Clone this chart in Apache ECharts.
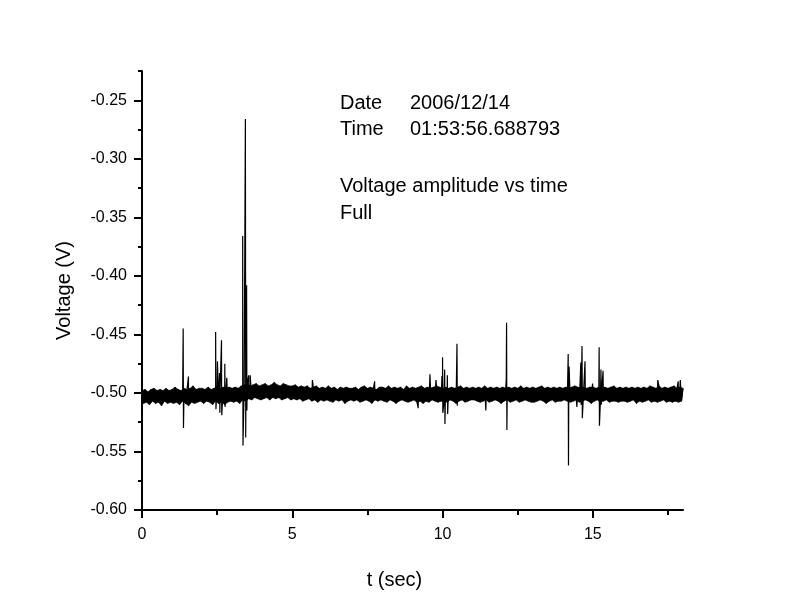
<!DOCTYPE html>
<html>
<head>
<meta charset="utf-8">
<script src="https://cdn.jsdelivr.net/npm/echarts@6/dist/echarts.min.js"></script>
<style>
html,body{margin:0;padding:0;background:#fff;}
#chart{width:792px;height:612px;}
</style>
</head>
<body>
<div id="chart"></div>
<script>
// ---- data ----
const noiseStart = 0;      // sec
const noiseStep = 0.05;    // sec between baseline samples
const noiseValues = [
-0.498,-0.509,-0.497,-0.508,-0.499,-0.510,-0.497,-0.507,-0.496,-0.509,-0.498,-0.508,-0.497,-0.511,-0.498,-0.507,-0.496,-0.509,-0.498,-0.508,
-0.497,-0.509,-0.495,-0.508,-0.497,-0.510,-0.498,-0.507,-0.496,-0.509,-0.497,-0.511,-0.496,-0.508,-0.494,-0.509,-0.497,-0.508,-0.496,-0.507,
-0.496,-0.509,-0.497,-0.507,-0.495,-0.508,-0.497,-0.510,-0.496,-0.507,-0.494,-0.509,-0.496,-0.508,-0.495,-0.510,-0.496,-0.508,-0.495,-0.507,
-0.496,-0.508,-0.495,-0.507,-0.496,-0.509,-0.494,-0.506,-0.493,-0.507,-0.492,-0.505,-0.494,-0.506,-0.493,-0.504,-0.492,-0.505,-0.494,-0.506,
-0.493,-0.505,-0.492,-0.504,-0.494,-0.506,-0.493,-0.504,-0.491,-0.505,-0.493,-0.504,-0.494,-0.506,-0.492,-0.505,-0.493,-0.504,-0.494,-0.506,
-0.494,-0.505,-0.493,-0.506,-0.495,-0.505,-0.494,-0.507,-0.495,-0.506,-0.494,-0.505,-0.496,-0.507,-0.495,-0.506,-0.494,-0.508,-0.496,-0.506,
-0.495,-0.507,-0.496,-0.506,-0.494,-0.507,-0.496,-0.508,-0.495,-0.506,-0.497,-0.507,-0.495,-0.506,-0.496,-0.509,-0.495,-0.507,-0.496,-0.506,
-0.496,-0.507,-0.495,-0.506,-0.497,-0.508,-0.495,-0.507,-0.494,-0.506,-0.496,-0.507,-0.495,-0.509,-0.496,-0.506,-0.497,-0.507,-0.495,-0.506,
-0.495,-0.507,-0.496,-0.508,-0.494,-0.506,-0.496,-0.507,-0.495,-0.509,-0.496,-0.507,-0.495,-0.506,-0.497,-0.507,-0.494,-0.508,-0.496,-0.507,
-0.495,-0.506,-0.496,-0.508,-0.495,-0.507,-0.494,-0.509,-0.496,-0.507,-0.495,-0.508,-0.496,-0.506,-0.495,-0.507,-0.494,-0.508,-0.495,-0.507,
-0.496,-0.507,-0.495,-0.508,-0.496,-0.506,-0.495,-0.507,-0.496,-0.509,-0.495,-0.507,-0.494,-0.506,-0.496,-0.508,-0.495,-0.507,-0.496,-0.506,
-0.495,-0.506,-0.496,-0.507,-0.495,-0.508,-0.496,-0.507,-0.494,-0.506,-0.496,-0.508,-0.495,-0.507,-0.496,-0.506,-0.495,-0.507,-0.496,-0.509,
-0.495,-0.507,-0.496,-0.506,-0.495,-0.508,-0.496,-0.507,-0.495,-0.506,-0.496,-0.508,-0.494,-0.507,-0.496,-0.506,-0.495,-0.507,-0.496,-0.508,
-0.495,-0.508,-0.496,-0.507,-0.495,-0.506,-0.494,-0.507,-0.496,-0.509,-0.495,-0.507,-0.496,-0.506,-0.495,-0.508,-0.496,-0.507,-0.495,-0.507,
-0.496,-0.506,-0.495,-0.507,-0.496,-0.508,-0.495,-0.507,-0.494,-0.506,-0.495,-0.508,-0.496,-0.507,-0.495,-0.506,-0.496,-0.507,-0.495,-0.509,
-0.495,-0.507,-0.496,-0.506,-0.495,-0.508,-0.496,-0.507,-0.495,-0.506,-0.496,-0.508,-0.495,-0.507,-0.494,-0.507,-0.496,-0.508,-0.495,-0.507,
-0.496,-0.507,-0.495,-0.508,-0.496,-0.507,-0.495,-0.506,-0.496,-0.509,-0.495,-0.507,-0.496,-0.508,-0.495,-0.507,-0.496,-0.506,-0.494,-0.508,
-0.495,-0.507,-0.496,-0.508,-0.494,-0.507,-0.496,-0.506,-0.495,-0.508,-0.496,-0.507,-0.495,-0.508,-0.494,-0.507,-0.496,-0.508,-0.495,-0.507,
-0.496
];
// transient spikes: [time (sec), voltage (V)]
const spikeTimes = [
1.37,1.38,1.545,2.45,2.46,2.51,2.58,2.59,2.645,2.655,2.755,2.765,2.82,
3.35,3.36,3.44,3.45,3.48,3.49,3.55,3.60,5.67,7.74,8.62,9.19,9.22,9.58,9.78,9.98,
10.00,10.01,10.07,10.08,10.16,10.17,10.48,10.49,11.44,12.12,12.13,12.14,
14.18,14.19,14.21,14.47,14.60,14.61,14.64,14.65,14.74,14.99,15.21,15.22,15.27,15.28,15.34,
17.16,17.84,17.91
];
const spikeValues = [
-0.445,-0.530,-0.486,-0.448,-0.514,-0.473,-0.483,-0.517,-0.455,-0.519,-0.475,-0.512,-0.487,
-0.366,-0.545,-0.266,-0.538,-0.408,-0.515,-0.485,-0.485,-0.489,-0.490,-0.494,-0.513,-0.495,-0.484,-0.489,-0.4855,
-0.4695,-0.517,-0.480,-0.5265,-0.485,-0.518,-0.458,-0.511,-0.515,-0.489,-0.440,-0.5316,
-0.4667,-0.562,-0.4775,-0.512,-0.474,-0.510,-0.460,-0.5216,-0.473,-0.492,-0.461,-0.528,-0.480,-0.510,-0.481,
-0.489,-0.490,-0.489
];
const xMajorTicks = [0, 5, 10, 15];
const xMinorTicks = [2.5, 7.5, 12.5, 17.5];
const yMajorTicks = [-0.60, -0.55, -0.50, -0.45, -0.40, -0.35, -0.30, -0.25];
const yMinorTicks = [-0.575, -0.525, -0.475, -0.425, -0.375, -0.325, -0.275, -0.225];
const infoLabels = ['Date', 'Time'];
const infoValues = ['2006/12/14', '01:53:56.688793'];
const captionLines = ['Voltage amplitude vs time', 'Full'];

// ---- build series ----
const noisePoints = noiseValues.map((v, i) => [noiseStart + i * noiseStep, v]);
const seriesData = noisePoints.slice();
spikeTimes.forEach((t, i) => seriesData.push([t, spikeValues[i]]));
seriesData.sort((a, b) => a[0] - b[0]);
// envelope of the dense baseline noise: upper samples (even) and lower samples (odd)
const upperEnv = noisePoints.filter((p, i) => i % 2 === 0);
const lowerEnv = noisePoints.filter((p, i) => i % 2 === 1);

const FONT = 'Arial, "Liberation Sans", sans-serif';
const chart = echarts.init(document.getElementById('chart'), null, {renderer: 'canvas'});

const graphics = [];
const infoY = [104, 130.5];
infoLabels.forEach((s, i) => {
  graphics.push({type: 'text', left: 340, top: infoY[i] - 11, style: {text: s, fill: '#000', font: '20px ' + FONT}});
  graphics.push({type: 'text', left: 410, top: infoY[i] - 11, style: {text: infoValues[i], fill: '#000', font: '20px ' + FONT}});
});
const capY = [187.5, 214];
captionLines.forEach((s, i) => {
  graphics.push({type: 'text', left: 340, top: capY[i] - 11, style: {text: s, fill: '#000', font: '20px ' + FONT}});
});

const axisLineStyle = {color: '#000', width: 2};
chart.setOption({
  animation: false,
  backgroundColor: '#fff',
  grid: {left: 142, right: 109, top: 71, bottom: 102, containLabel: false},
  xAxis: [{
    type: 'value', min: 0, max: 18, interval: 5, position: 'bottom',
    axisLine: {show: true, onZero: false, lineStyle: axisLineStyle},
    axisTick: {show: true, inside: false, length: 8, lineStyle: {color: '#000', width: 2}, customValues: xMajorTicks},
    axisLabel: {show: true, customValues: xMajorTicks, color: '#000', fontSize: 16, fontFamily: FONT, margin: 17,
      formatter: v => String(v)},
    splitLine: {show: false},
    name: 't (sec)', nameLocation: 'middle', nameGap: 60,
    nameTextStyle: {color: '#000', fontSize: 20, fontFamily: FONT, padding: [0, 36, 0, 0]}
  }, {
    type: 'value', min: 0, max: 18, position: 'bottom',
    axisLine: {show: false},
    axisTick: {show: true, inside: false, length: 5, lineStyle: {color: '#000', width: 2}, customValues: xMinorTicks},
    axisLabel: {show: false},
    splitLine: {show: false}
  }],
  yAxis: [{
    type: 'value', min: -0.60, max: -0.225, interval: 0.05, position: 'left',
    axisLine: {show: true, onZero: false, lineStyle: axisLineStyle},
    axisTick: {show: true, inside: false, length: 8, lineStyle: {color: '#000', width: 2}, customValues: yMajorTicks},
    axisLabel: {show: true, customValues: yMajorTicks, color: '#000', fontSize: 16, fontFamily: FONT, margin: 15,
      formatter: v => v.toFixed(2)},
    splitLine: {show: false},
    name: 'Voltage (V)', nameLocation: 'middle', nameGap: 68, nameRotate: 90,
    nameTextStyle: {color: '#000', fontSize: 20, fontFamily: FONT}
  }, {
    type: 'value', min: -0.60, max: -0.225, position: 'left',
    axisLine: {show: false},
    axisTick: {show: true, inside: false, length: 4, lineStyle: {color: '#000', width: 2}, customValues: yMinorTicks},
    axisLabel: {show: false},
    splitLine: {show: false}
  }],
  series: [{
    type: 'custom',
    xAxisIndex: 0, yAxisIndex: 0,
    data: [upperEnv[0]],
    silent: true,
    z: 1,
    renderItem: function (params, api) {
      const pts = [];
      upperEnv.forEach(p => pts.push(api.coord(p)));
      for (let i = lowerEnv.length - 1; i >= 0; i--) pts.push(api.coord(lowerEnv[i]));
      return {type: 'polygon', shape: {points: pts}, style: {fill: '#000', stroke: '#000', lineWidth: 0.6}};
    }
  }, {
    type: 'line',
    xAxisIndex: 0, yAxisIndex: 0,
    data: seriesData,
    showSymbol: false,
    symbol: 'none',
    sampling: null,
    z: 2,
    lineStyle: {color: '#000', width: 1.2},
    clip: true
  }],
  graphic: graphics
});
</script>
</body>
</html>
